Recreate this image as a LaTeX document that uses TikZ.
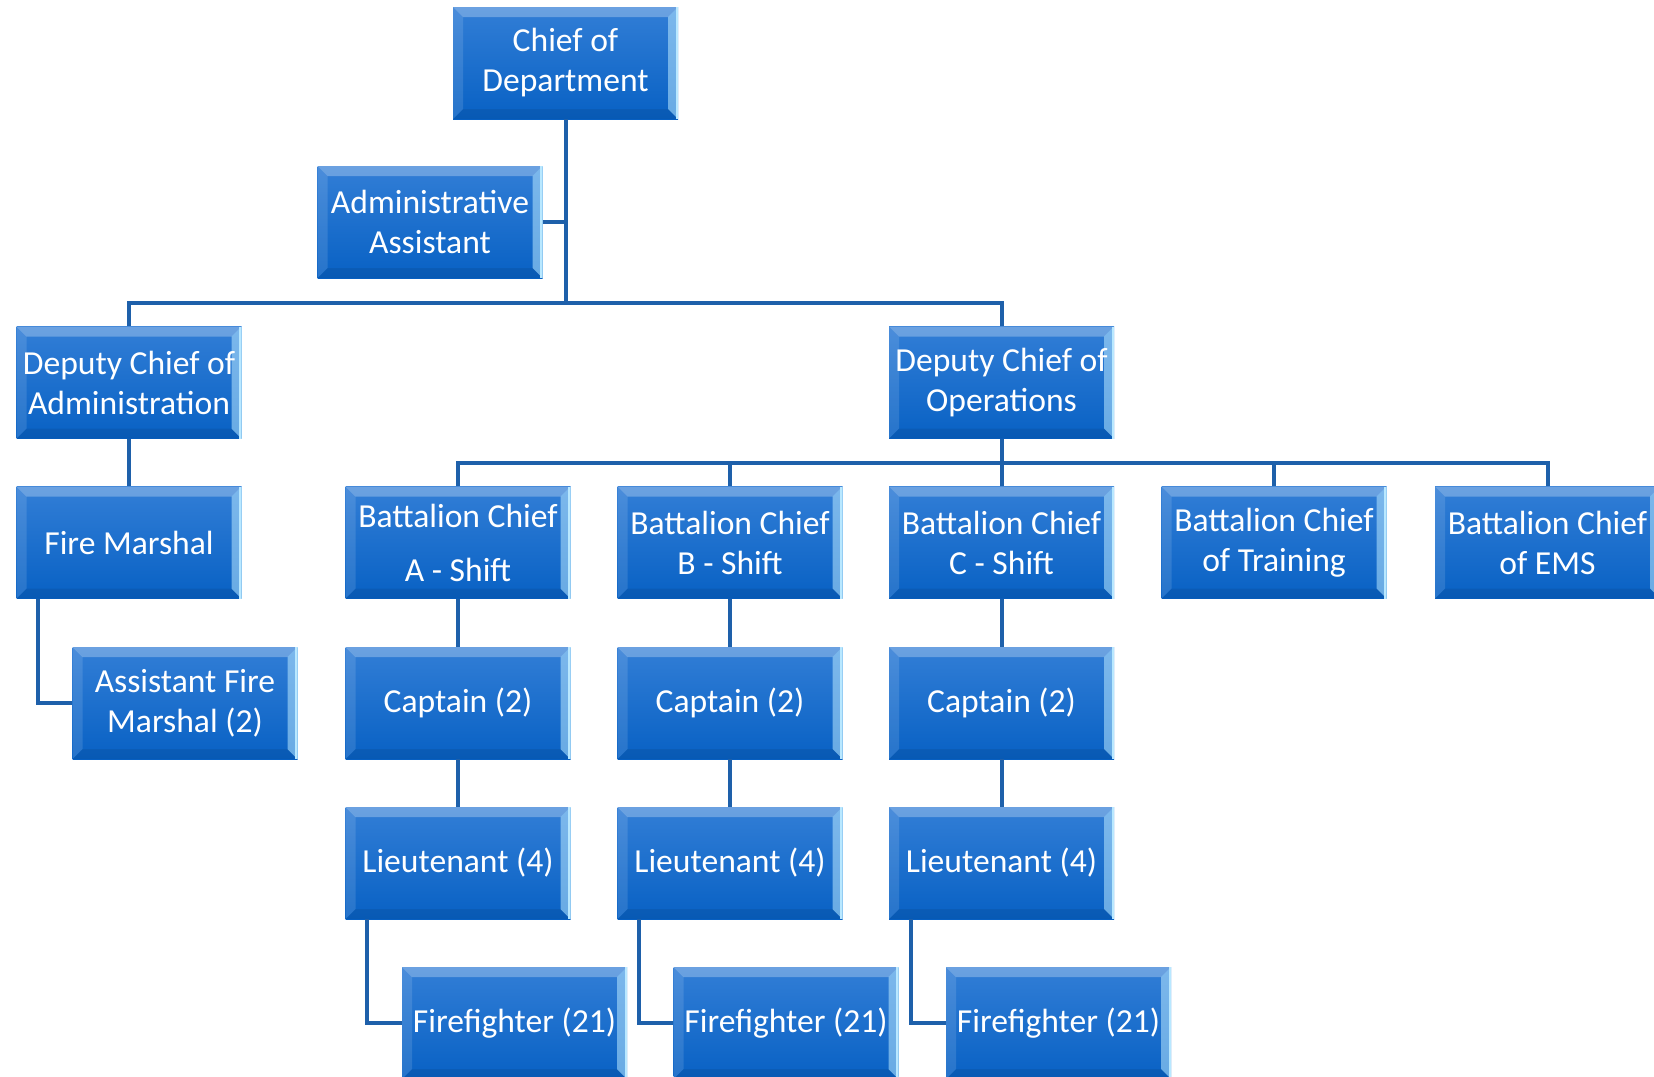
\documentclass[tikz,border=0pt]{standalone}
\usepackage{fontspec}
\newfontfamily\postfont{Carlito}
\usetikzlibrary{calc}
\definecolor{postTop}{RGB}{50,126,214}
\definecolor{postBot}{RGB}{8,97,196}
\definecolor{linkBlue}{RGB}{30,96,170}
\definecolor{edgeCyan}{RGB}{185,232,255}
\def\bv{5pt}
\tikzset{
  post/.style={rectangle, minimum width=112.5pt, minimum height=56pt, inner sep=0pt,
    top color=postTop, bottom color=postBot, text=white, align=center,
    font=\postfont\fontsize{16.8}{20}\selectfont,
    path picture={
      \path (path picture bounding box.north west) coordinate (pnw)
            (path picture bounding box.north east) coordinate (pne)
            (path picture bounding box.south west) coordinate (psw)
            (path picture bounding box.south east) coordinate (pse);
      % bevel: top, left, bottom, right
      \fill[white,opacity=.28] (pnw) -- (pne) -- ($(pne)+(-\bv,-\bv)$) -- ($(pnw)+(\bv,-\bv)$) -- cycle;
      \fill[white,opacity=.12] (pnw) -- ($(pnw)+(\bv,-\bv)$) -- ($(psw)+(\bv,\bv)$) -- (psw) -- cycle;
      \fill[black,opacity=.08] (psw) -- ($(psw)+(\bv,\bv)$) -- ($(pse)+(-\bv,\bv)$) -- (pse) -- cycle;
      \fill[edgeCyan,opacity=.55] (pne) -- ($(pne)+(-\bv,-\bv)$) -- ($(pse)+(-\bv,\bv)$) -- (pse) -- cycle;
      \draw[edgeCyan,line width=1.2pt] ($(pne)+(-.6pt,0)$) -- ($(pse)+(-.6pt,0)$);
    }},
  link/.style={draw=linkBlue, line width=2pt}
}

\begin{document}
\begin{tikzpicture}[x=0.5pt,y=-0.5pt]
		%%%%% START %%%%%
		\useasboundingbox (0,0) rectangle (1654,1076);
		
		\node[post] (chief) at (565.5,63) {Chief of\\Department};
		\node[post] (admin) at (430,222) {Administrative\\Assistant};
		
		\node[post] (depadm) at (129,382.5) {Deputy Chief of\\Administration};
		\node[post] (depops) at (1001.5,382.5) {Deputy Chief of\\Operations};
		
		\node[post] (marshal) at (129,542.5) {Fire Marshal};
		\node[post] (asstfm) at (185,703) {Assistant Fire\\Marshal (2)};
		
		\node[post] (bcA) at (458,542.5) {Battalion Chief\\[7pt]A - Shift};
		\node[post] (bcB) at (730,542.5) {Battalion Chief\\B - Shift};
		\node[post] (bcC) at (1001.5,542.5) {Battalion Chief\\C - Shift};
		\node[post] (bcT) at (1274,542.5) {Battalion Chief\\of Training};
		\node[post] (bcE) at (1547.5,542.5) {Battalion Chief\\of EMS};
		
		\node[post] (capA) at (458,703) {Captain (2)};
		\node[post] (capB) at (730,703) {Captain (2)};
		\node[post] (capC) at (1001.5,703) {Captain (2)};
		
		\node[post] (ltA) at (458,863) {Lieutenant (4)};
		\node[post] (ltB) at (730,863) {Lieutenant (4)};
		\node[post] (ltC) at (1001.5,863) {Lieutenant (4)};
		
		\node[post] (ffA) at (514.5,1023) {Firefighter (21)};
		\node[post] (ffB) at (786,1023) {Firefighter (21)};
		\node[post] (ffC) at (1058.5,1023) {Firefighter (21)};
		
		\coordinate (topbus) at (565.5,303);
		\coordinate (opsbus) at (1001.5,463);
		
		\draw[link] (chief.south) -- (topbus);
		\draw[link] (admin.east) -- (admin.east -| chief.south);
		\draw[link] (depadm.north) |- (topbus);
		\draw[link] (depops.north) |- (topbus);
		
		\draw[link] (depadm.south) -- (marshal.north);
		\draw[link] ([xshift=11pt]marshal.south west) |- (asstfm.west);
		
		\draw[link] (depops.south) -- (opsbus);
		\draw[link] (bcA.north) |- (opsbus);
		\draw[link] (bcB.north) |- (opsbus);
		\draw[link] (bcC.north) |- (opsbus);
		\draw[link] (bcT.north) |- (opsbus);
		\draw[link] (bcE.north) |- (opsbus);
		
		\draw[link] (bcA.south) -- (capA.north);
		\draw[link] (capA.south) -- (ltA.north);
		\draw[link] ([xshift=11pt]ltA.south west) |- (ffA.west);
		
		\draw[link] (bcB.south) -- (capB.north);
		\draw[link] (capB.south) -- (ltB.north);
		\draw[link] ([xshift=11pt]ltB.south west) |- (ffB.west);
		
		\draw[link] (bcC.south) -- (capC.north);
		\draw[link] (capC.south) -- (ltC.north);
		\draw[link] ([xshift=11pt]ltC.south west) |- (ffC.west);
		%%%%% END %%%%%
\end{tikzpicture}
\end{document}
